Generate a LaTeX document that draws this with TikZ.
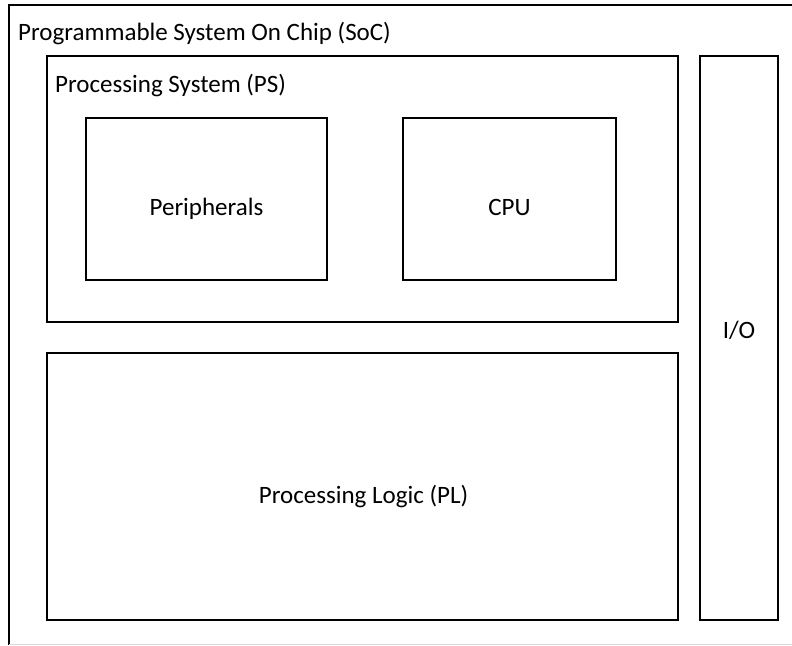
\documentclass[tikz,border=0pt]{standalone}
\usepackage{fontspec}
\setmainfont{Carlito}
\begin{document}
\begin{tikzpicture}[x=1pt,y=-1pt,
  blk/.style={draw=black, line width=1.6pt, inner sep=0pt},
  lbl/.style={font=\fontsize{25}{30}\selectfont, inner sep=0pt}]
\useasboundingbox (0,0) rectangle (792,645);
\fill[white] (0,0) rectangle (792,645);
% outer SoC box (clipped at right and bottom)
\draw[line width=1.2pt] (800,5) -- (9,5) -- (9,645);
\draw[black!15, line width=0.8pt] (9,644) -- (792,644);
\node[lbl, anchor=base west] (soc) at (18,40) {Programmable System On Chip (SoC)};
% PS
\node[blk, minimum width=631pt, minimum height=266pt] (psbox) at (362.5,189) {};
\node[lbl, anchor=base west] (ps) at (55,92) {Processing System (PS)};
\node[blk, minimum width=241pt, minimum height=162pt] (per) at (206.5,199) {};
\node[lbl, anchor=base] (pert) at (206.5,215) {Peripherals};
\node[blk, minimum width=213pt, minimum height=162pt] (cpu) at (509.5,199) {};
\node[lbl, anchor=base] (cput) at (509.5,215) {CPU};
% PL
\node[blk, minimum width=631pt, minimum height=267pt] (pl) at (362.5,486.5) {};
\node[lbl, anchor=base] (plt) at (363.5,503) {Processing Logic (PL)};
% IO
\node[blk, minimum width=78pt, minimum height=564pt] (io) at (739,338) {};
\node[lbl, anchor=base] (iot) at (739,338) {I/O};
\end{tikzpicture}
\end{document}
